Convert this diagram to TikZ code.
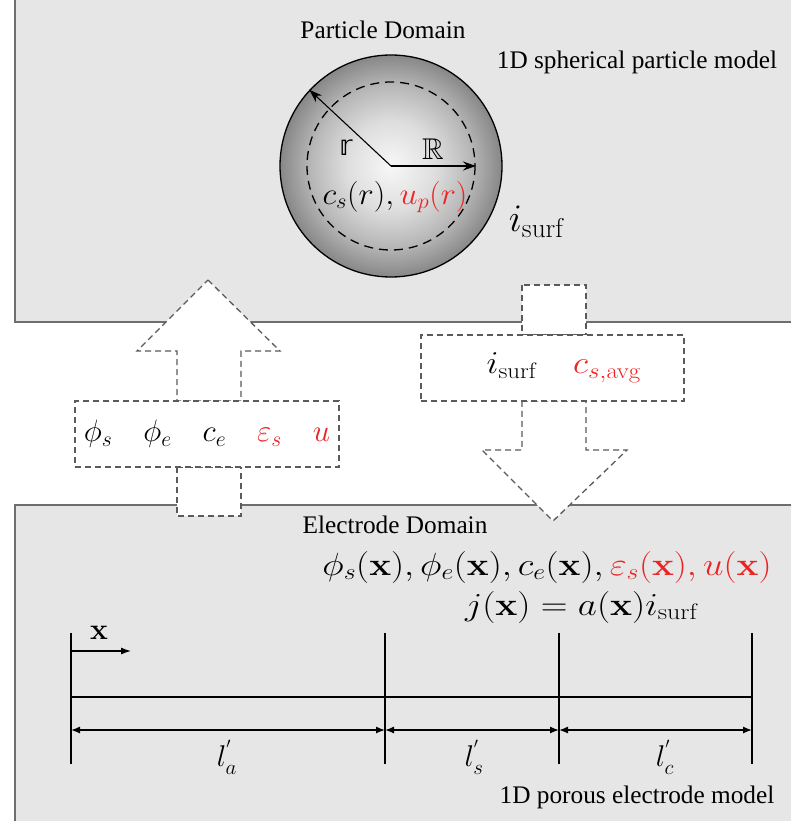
\RequirePackage{fix-cm}
\documentclass[tikz,border=0pt]{standalone}
\usepackage{amsmath,amssymb}
\usepackage{graphicx}
\usepackage[no-math]{fontspec}
\setmainfont{Liberation Serif}
\newfontfamily\djv{DejaVu Sans}
\usetikzlibrary{arrows.meta}
\definecolor{dom}{HTML}{E6E6E6}
\definecolor{domline}{HTML}{6E6E6E}
\definecolor{dsh}{HTML}{5A5A5A}
\definecolor{myred}{HTML}{EE2222}
\pgfdeclareradialshading{sphshade}{\pgfpoint{0bp}{0bp}}{color(0bp)=(black!3); color(10bp)=(black!13); color(18bp)=(black!28); color(25bp)=(black!47); color(50bp)=(black!47)}
\begin{document}
\begin{tikzpicture}[x=1pt,y=-1pt,
  txt/.style={font=\fontsize{25.3}{30}\selectfont, inner sep=0pt},
  mth/.style={font=\fontsize{30}{36}\selectfont, inner sep=0pt},
  dombox/.style={fill=dom, draw=domline, line width=1.8pt},
  flow/.style={fill=white, draw=dsh, line width=1.3pt, dash pattern=on 6pt off 4pt, line join=miter},
  axis/.style={line width=1.4pt},
  dim/.style={line width=1.3pt, {Latex[length=9pt,width=7pt]}-{Latex[length=9pt,width=7pt]}}]
\useasboundingbox (0,0) rectangle (791,821);
\clip (0,0) rectangle (791,821);
% domains
\path[dombox] (15,-10) rectangle (800,322);
\path[dombox] (15,505) rectangle (800,830);
% particle
\node[circle, minimum size=222pt, draw, line width=1.3pt, shading=sphshade] (sph) at (391,166) {};
\draw[line width=1.3pt, dash pattern=on 9pt off 6pt] (sph.center) circle (84);
\coordinate (Rend) at (476,166);
\draw[line width=1.1pt, -{Stealth[length=13pt,width=9pt]}] (sph.center) -- (Rend);
\draw[line width=1.1pt, -{Stealth[length=13pt,width=9pt]}] (sph.center) -- (sph.137);
\node[inner sep=0pt, font=\djv\fontsize{28}{32}\selectfont] (lr) at (346,148) {𝕣};
\node[mth] (lR) at (433,149) {$\mathbb{R}$};
\node[mth] (cs) at (395,197) {\scalebox{1.08}[1.03]{$c_s(r), {\color{myred}u_p(r)}$}};
\node[txt] (pd) at (383,30) {Particle Domain};
\node[txt] (spm) at (637,62) {1D spherical particle model};
\node[inner sep=0pt, font=\fontsize{39}{44}\selectfont] (isurf) at (537,222) {$i_{\mathrm{surf}}$};
% up arrow (left)
\path[flow] (208,280) -- (280,351) -- (241,351) -- (241,401) -- (177,401) -- (177,351) -- (137,351) -- cycle;
\path[flow] (177,467) rectangle (241,516);
\node[draw=dsh, fill=white, line width=1.3pt, dash pattern=on 6pt off 4pt, minimum width=264pt, minimum height=66pt, inner sep=0pt] (upbox) at (207,434) {};
\node[inner sep=0pt, font=\fontsize{31}{36}\selectfont] (upvars) at (207,434) {$\phi_s\quad \phi_e\quad c_e\quad {\color{myred}\varepsilon_s\quad u}$};
% down arrow (right)
\path[flow] (522,285) rectangle (586,335);
\path[flow] (522,401) -- (586,401) -- (586,450) -- (627,450) -- (553,521) -- (482,450) -- (522,450) -- cycle;
\node[draw=dsh, fill=white, line width=1.3pt, dash pattern=on 6pt off 4pt, minimum width=263pt, minimum height=66pt, inner sep=0pt] (dnbox) at (552.5,368) {};
\node[mth] (dnvars) at (564,368) {\scalebox{1.18}[1.06]{$i_{\mathrm{surf}}\quad {\color{myred}c_{s,\mathrm{avg}}}$}};
% electrode
\node[txt] (ed) at (395,525) {Electrode Domain};
\node[inner sep=0pt, font=\fontsize{32}{38}\selectfont] (fields) at (547,567) {\scalebox{1.15}[1]{$\phi_s(\mathbf{x}), \phi_e(\mathbf{x}), c_e(\mathbf{x}), {\color{myred}\varepsilon_s(\mathbf{x}), u(\mathbf{x})}$}};
\node[inner sep=0pt, font=\fontsize{32}{38}\selectfont] (jx) at (582,607) {\scalebox{1.16}[1]{$j(\mathbf{x}) = a(\mathbf{x})i_{\mathrm{surf}}$}};
\coordinate (t1) at (71,633); \coordinate (b1) at (71,764);
\coordinate (t2) at (385,633); \coordinate (b2) at (385,764);
\coordinate (t3) at (559,633); \coordinate (b3) at (559,764);
\coordinate (t4) at (752,633); \coordinate (b4) at (752,764);
\draw[axis] (t1) -- (b1); \draw[axis] (t2) -- (b2); \draw[axis] (t3) -- (b3); \draw[axis] (t4) -- (b4);
\coordinate (h1) at (71,697); \coordinate (h4) at (752,697);
\draw[line width=2.2pt] (h1) -- (h4);
\coordinate (d1) at (71,730); \coordinate (d2) at (385,730); \coordinate (d3) at (559,730); \coordinate (d4) at (752,730);
\draw[dim] (d1) -- (d2); \draw[dim] (d2) -- (d3); \draw[dim] (d3) -- (d4);
\node[mth] (la) at (227,757) {$l_a^{'}$};
\node[mth] (ls) at (474,757) {$l_s^{'}$};
\node[mth] (lc) at (665,757) {$l_c^{'}$};
\coordinate (x0) at (71,651); \coordinate (x1) at (131,651);
\draw[line width=1.2pt, -{Latex[length=10pt,width=7pt]}] (x0) -- (x1);
\node[mth] (xl) at (99,633) {$\mathbf{x}$};
\node[txt] (pem) at (637,797) {1D porous electrode model};
\end{tikzpicture}
\end{document}
